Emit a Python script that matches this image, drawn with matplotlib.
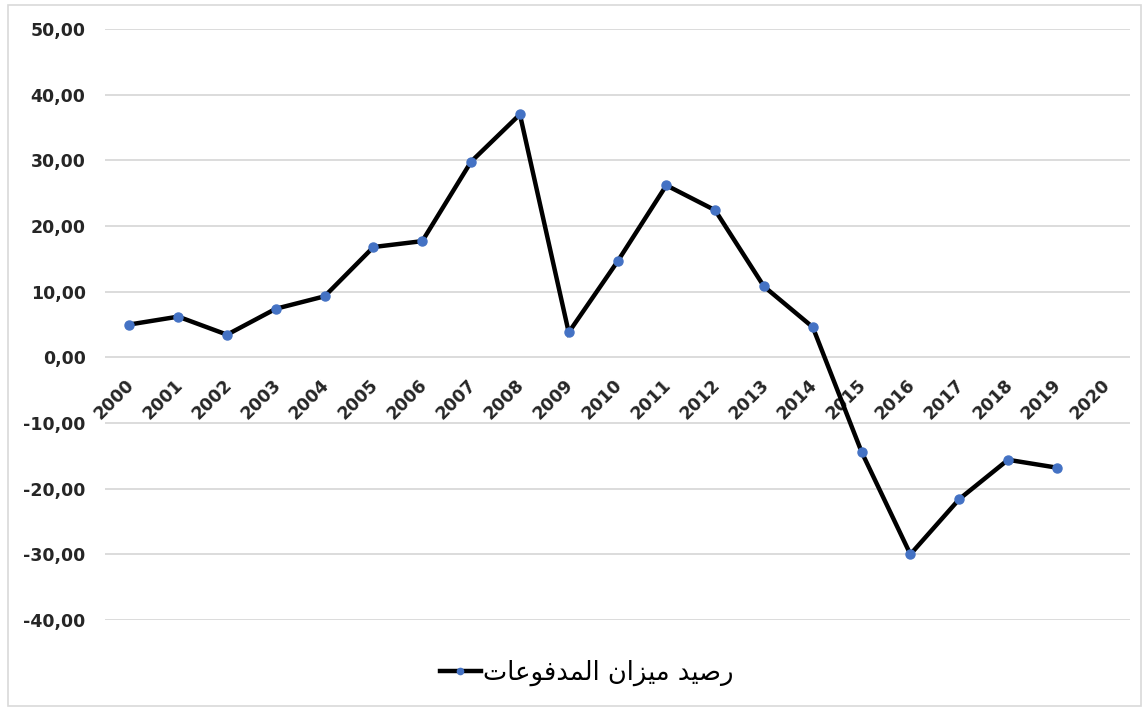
import matplotlib.pyplot as plt
from matplotlib.patches import Rectangle

# Balance of payments by year (2020 has a slot but no value yet)
years = [str(y) for y in range(2000, 2021)]
balance = [5.0, 6.2, 3.45, 7.4, 9.3, 16.8, 17.7, 29.8, 37.0, 3.8,
           14.6, 26.2, 22.4, 10.8, 4.6, -14.4, -30.0, -21.6, -15.6, -16.8]
y_ticks = list(range(-40, 51, 10))

# "رصيد ميزان المدفوعات" pre-shaped (presentation forms, visual order)
# because matplotlib does no Arabic shaping / bidi on its own
series_label = ("\uFE95\uFE8E\uFECB\uFEEE\uFED3\uFEAA\uFEE4\uFEDF\uFE8D "
                "\uFEE5\uFE8D\uFEB0\uFEF4\uFEE3 "
                "\uFEAA\uFEF4\uFEBB\uFEAD")

grid_color = "#D9D9D9"
text_color = "#262626"

fig = plt.figure(figsize=(11.44, 7.08), dpi=100)
ax = fig.add_axes([0.0918, 0.1243, 0.8960, 0.8347])

# outer chart frame
fig.patches.append(Rectangle((8 / 1144, 2 / 708), 1133 / 1144, 701 / 708,
                             transform=fig.transFigure, fill=False,
                             edgecolor=grid_color, linewidth=1.2))

ax.plot(range(len(balance)), balance, color="black", linewidth=3.2,
        marker="o", markersize=6.5, markerfacecolor="#4472C4",
        markeredgecolor="#4472C4", label=series_label, zorder=3,
        solid_joinstyle="miter")

ax.set_xlim(-0.5, len(years) - 0.5)
ax.set_ylim(-40, 50)
ax.set_yticks(y_ticks)
ax.set_yticklabels([f"{v:.2f}".replace(".", ",") for v in y_ticks],
                   fontsize=12.5, fontweight="bold", color=text_color)
ax.tick_params(axis="y", length=0, pad=14)
ax.set_xticks([])

for v in y_ticks:
    ax.axhline(v, color=grid_color, linewidth=1.3, zorder=1)

for s in ax.spines.values():
    s.set_visible(False)

# year labels hang off the zero line, rotated like the spreadsheet axis
for i, yr in enumerate(years):
    ax.annotate(yr, xy=(i, 0), xytext=(6, -13), textcoords="offset points",
                rotation=45, ha="right", va="top", fontsize=12.5,
                fontweight="bold", color=text_color, zorder=2)

leg = fig.legend(loc="center", bbox_to_anchor=(0.513, 0.049), frameon=False,
                 handlelength=1.6, handletextpad=0.1,
                 prop={"family": "DejaVu Sans", "size": 18.5})
for h in leg.legend_handles:
    h.set_markersize(4.5)

fig.savefig("out.png", dpi=100, facecolor="white")
